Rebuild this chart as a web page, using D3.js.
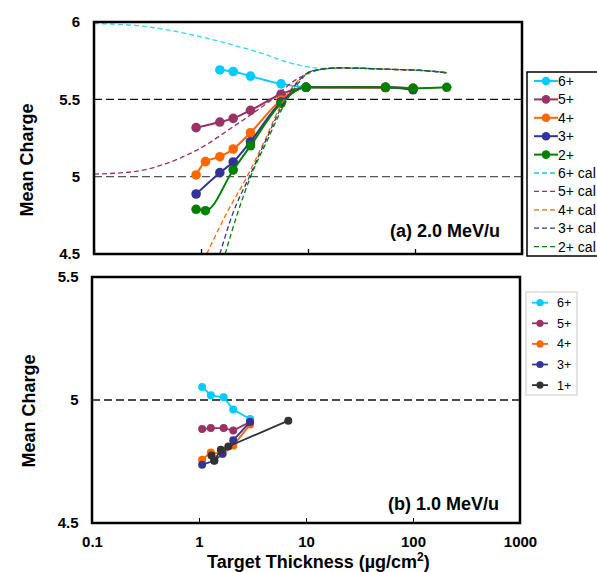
<!DOCTYPE html>
<html>
<head>
<meta charset="utf-8">
<script src="https://cdn.jsdelivr.net/npm/d3@7"></script>
<style>
  body { margin: 0; background: #fff; }
  svg { font-family: "Liberation Sans", Arial, sans-serif; }
</style>
</head>
<body>
<div id="chart"></div>
<script>
// ---- data ----

// panel (a) 2.0 MeV/u, measured
var a6x = [1.5, 2.0, 2.9, 5.6, 9.6];
var a6y = [5.69, 5.68, 5.65, 5.60, 5.578];
var a5x = [0.9, 1.5, 2.0, 2.9, 5.6, 9.6, 53, 96];
var a5y = [5.317, 5.353, 5.377, 5.429, 5.533, 5.578, 5.578, 5.571];
var a4x = [0.9, 1.1, 1.5, 2.0, 2.9, 5.6, 9.6, 53, 96];
var a4y = [5.011, 5.097, 5.129, 5.179, 5.284, 5.496, 5.578, 5.575, 5.572];
var a3x = [0.9, 1.5, 2.0, 2.9, 5.6, 9.6, 53, 96];
var a3y = [4.888, 5.026, 5.095, 5.226, 5.483, 5.578, 5.578, 5.562];
var a2x = [0.9, 1.1, 2.0, 2.9, 5.6, 9.6, 53, 96, 198];
var a2y = [4.789, 4.780, 5.043, 5.200, 5.474, 5.578, 5.578, 5.571, 5.578];

// panel (a) calculated curves
var c6x = [0.1, 0.27, 0.73, 1.74, 3.8, 6.8, 14, 20, 58, 138, 197];
var c6y = [5.99, 5.975, 5.925, 5.862, 5.795, 5.735, 5.70, 5.703, 5.694, 5.683, 5.672];
var c5x = [0.1, 0.233, 0.478, 0.979, 2.0, 4.12, 8.4, 15, 20, 58, 138, 197];
var c5y = [5.017, 5.032, 5.086, 5.183, 5.323, 5.474, 5.642, 5.70, 5.703, 5.694, 5.683, 5.672];
var c4x = [1.13, 1.74, 2.69, 3.96, 5.59, 7.56, 10.9, 20, 58, 138, 197];
var c4y = [4.5, 4.765, 5.0, 5.237, 5.463, 5.599, 5.683, 5.703, 5.694, 5.683, 5.672];
var c3x = [1.50, 1.99, 2.83, 4.05, 5.71, 7.72, 10.9, 20, 58, 138, 197];
var c3y = [4.5, 4.765, 5.0, 5.237, 5.457, 5.599, 5.683, 5.703, 5.694, 5.683, 5.672];
var c2x = [1.68, 2.20, 2.91, 4.14, 5.84, 7.89, 10.9, 20, 58, 138, 197];
var c2y = [4.5, 4.765, 5.0, 5.231, 5.450, 5.593, 5.683, 5.703, 5.694, 5.683, 5.672];

// panel (b) 1.0 MeV/u, measured
var b6x = [1.07, 1.29, 1.70, 2.09, 3.0];
var b6y = [5.053, 5.019, 5.011, 4.961, 4.923];
var b5x = [1.07, 1.29, 1.70, 2.09, 3.0];
var b5y = [4.882, 4.886, 4.886, 4.876, 4.911];
var b4x = [1.07, 1.29, 1.66, 2.09, 3.0];
var b4y = [4.757, 4.787, 4.781, 4.815, 4.900];
var b3x = [1.07, 1.39, 1.66, 2.09, 3.0];
var b3y = [4.737, 4.753, 4.781, 4.836, 4.911];
var b1x = [1.31, 1.39, 1.60, 1.88, 6.83];
var b1y = [4.774, 4.754, 4.798, 4.811, 4.916];

var xTicks = [0.1, 1, 10, 100, 1000];
var yTicksA = [4.5, 5, 5.5, 6];
var yTicksB = [4.5, 5, 5.5];
var labelsA = ["6+", "5+", "4+", "3+", "2+", "6+ cal", "5+ cal", "4+ cal", "3+ cal", "2+ cal"];
var labelsB = ["6+", "5+", "4+", "3+", "1+"];

var colors = {
  "6+": "#00ccff", "5+": "#993366", "4+": "#ff6600",
  "3+": "#333399", "2+": "#008000", "1+": "#333333"
};

function zip(xs, ys) {
  return xs.map(function(x, i) { return [x, ys[i]]; });
}

var measA = [
  {name: "6+", pts: zip(a6x, a6y)},
  {name: "5+", pts: zip(a5x, a5y)},
  {name: "4+", pts: zip(a4x, a4y)},
  {name: "3+", pts: zip(a3x, a3y)},
  {name: "2+", pts: zip(a2x, a2y)}
];
var calcA = [
  {name: "6+", pts: zip(c6x, c6y)},
  {name: "5+", pts: zip(c5x, c5y)},
  {name: "4+", pts: zip(c4x, c4y)},
  {name: "3+", pts: zip(c3x, c3y)},
  {name: "2+", pts: zip(c2x, c2y)}
];
var measB = [
  {name: "6+", pts: zip(b6x, b6y)},
  {name: "5+", pts: zip(b5x, b5y)},
  {name: "4+", pts: zip(b4x, b4y)},
  {name: "3+", pts: zip(b3x, b3y)},
  {name: "1+", pts: zip(b1x, b1y)}
];

// ---- scales ----
var xA = d3.scaleLog().domain([0.1, 1000]).range([94, 522]);
var yA = d3.scaleLinear().domain([4.5, 6]).range([254, 22]);
var xB = d3.scaleLog().domain([0.1, 1000]).range([92, 520]);
var yB = d3.scaleLinear().domain([4.5, 5.5]).range([523, 277]);

var svg = d3.select("#chart").append("svg")
    .attr("width", 597)
    .attr("height", 572);

var defs = svg.append("defs");
defs.append("clipPath").attr("id", "clipA").append("rect")
    .attr("x", 94).attr("y", 22).attr("width", 428).attr("height", 232);
defs.append("clipPath").attr("id", "clipB").append("rect")
    .attr("x", 92).attr("y", 277).attr("width", 428).attr("height", 246);

// ---- panel (a) ----
var gA = svg.append("g");

// reference lines
gA.selectAll(".ref")
    .data([5.5, 5])
  .enter().append("line")
    .attr("x1", xA(0.1)).attr("x2", xA(1000))
    .attr("y1", function(d) { return yA(d); })
    .attr("y2", function(d) { return yA(d); })
    .attr("stroke", function(d) { return d == 5 ? "#555" : "#111"; })
    .attr("stroke-width", 1.3)
    .attr("stroke-dasharray", "8,4");

var lineA = d3.line()
    .x(function(d) { return xA(d[0]); })
    .y(function(d) { return yA(d[1]); })
    .curve(d3.curveMonotoneX);

var plotA = gA.append("g").attr("clip-path", "url(#clipA)");

measA.forEach(function(s) {
  plotA.append("path")
      .attr("d", lineA(s.pts))
      .attr("fill", "none")
      .attr("stroke", colors[s.name])
      .attr("stroke-width", 2);
  plotA.selectAll(null)
      .data(s.pts)
    .enter().append("circle")
      .attr("cx", function(d) { return xA(d[0]); })
      .attr("cy", function(d) { return yA(d[1]); })
      .attr("r", 4.8)
      .attr("fill", colors[s.name]);
});

calcA.forEach(function(s) {
  plotA.append("path")
      .attr("d", lineA(s.pts))
      .attr("fill", "none")
      .attr("stroke", colors[s.name])
      .attr("stroke-opacity", s.name == "6+" ? 0.8 : 1)
      .attr("stroke-width", 1.3)
      .attr("stroke-dasharray", "5,3");
});

// axes
var axA = gA.append("g")
    .attr("transform", "translate(0,254)")
    .call(d3.axisBottom(xA).tickValues(xTicks).tickSizeInner(-5).tickSizeOuter(0).tickFormat(""));
axA.select(".domain").remove();
axA.selectAll("line").attr("stroke", "#000").attr("stroke-width", 1.3);

var ayA = gA.append("g")
    .attr("transform", "translate(94,0)")
    .call(d3.axisLeft(yA).tickValues(yTicksA).tickSize(0).tickPadding(14).tickFormat(function(d) { return d; }));
ayA.select(".domain").remove();
ayA.selectAll("text")
    .attr("font-size", 15).attr("font-weight", "bold").attr("font-family", "Liberation Sans, Arial, sans-serif");

gA.append("rect")
    .attr("x", 94).attr("y", 22).attr("width", 428).attr("height", 232)
    .attr("fill", "none").attr("stroke", "#000").attr("stroke-width", 2.5);

gA.append("text")
    .attr("x", 390).attr("y", 237)
    .attr("font-size", 18).attr("font-weight", "bold")
    .text("(a) 2.0 MeV/u");

gA.append("text")
    .attr("transform", "translate(33,160) rotate(-90)")
    .attr("text-anchor", "middle")
    .attr("font-size", 18).attr("font-weight", "bold")
    .text("Mean Charge");

// legend (a)
var legA = gA.append("g");
legA.append("rect")
    .attr("x", 527).attr("y", 72).attr("width", 90).attr("height", 184)
    .attr("fill", "#fff").attr("stroke", "#000").attr("stroke-width", 1.5);
labelsA.forEach(function(lab, i) {
  var y = 81 + i * 18.4;
  var key = lab.split(" ")[0];
  var isCal = lab.indexOf("cal") > 0;
  legA.append("line")
      .attr("x1", 534).attr("x2", 558).attr("y1", y).attr("y2", y)
      .attr("stroke", colors[key])
      .attr("stroke-width", isCal ? 1.3 : 2)
      .attr("stroke-dasharray", isCal ? "5,3" : null);
  if (!isCal) {
    legA.append("circle").attr("cx", 546).attr("cy", y).attr("r", 4.3).attr("fill", colors[key]);
  }
  legA.append("text")
      .attr("x", 558).attr("y", y).attr("dy", "0.36em")
      .attr("font-size", 14)
      .text(lab);
});

// ---- panel (b) ----
var gB = svg.append("g");

gB.append("line")
    .attr("x1", xB(0.1)).attr("x2", xB(1000))
    .attr("y1", yB(5)).attr("y2", yB(5))
    .attr("stroke", "#111").attr("stroke-width", 1.3)
    .attr("stroke-dasharray", "8,4");

var lineB = d3.line()
    .x(function(d) { return xB(d[0]); })
    .y(function(d) { return yB(d[1]); });

var plotB = gB.append("g").attr("clip-path", "url(#clipB)");
measB.forEach(function(s) {
  plotB.append("path")
      .attr("d", lineB(s.pts))
      .attr("fill", "none")
      .attr("stroke", colors[s.name])
      .attr("stroke-width", 1.8);
  plotB.selectAll(null)
      .data(s.pts)
    .enter().append("circle")
      .attr("cx", function(d) { return xB(d[0]); })
      .attr("cy", function(d) { return yB(d[1]); })
      .attr("r", 4)
      .attr("fill", colors[s.name]);
});

var axB = gB.append("g")
    .attr("transform", "translate(0,523)")
    .call(d3.axisBottom(xB).tickValues(xTicks).tickSizeInner(-5).tickSizeOuter(0).tickPadding(13)
      .tickFormat(function(d) { return d; }));
axB.select(".domain").remove();
axB.selectAll("line").attr("stroke", "#000").attr("stroke-width", 1);
axB.selectAll("text")
    .attr("font-size", 15).attr("font-weight", "bold").attr("font-family", "Liberation Sans, Arial, sans-serif");

var ayB = gB.append("g")
    .attr("transform", "translate(92,0)")
    .call(d3.axisLeft(yB).tickValues(yTicksB).tickSize(0).tickPadding(13.5).tickFormat(function(d) { return d; }));
ayB.select(".domain").remove();
ayB.selectAll("text")
    .attr("font-size", 15).attr("font-weight", "bold").attr("font-family", "Liberation Sans, Arial, sans-serif");

gB.append("rect")
    .attr("x", 92).attr("y", 277).attr("width", 428).attr("height", 246)
    .attr("fill", "none").attr("stroke", "#000").attr("stroke-width", 2.5);

gB.append("text")
    .attr("x", 388).attr("y", 510)
    .attr("font-size", 18).attr("font-weight", "bold")
    .text("(b) 1.0 MeV/u");

gB.append("text")
    .attr("transform", "translate(35,411) rotate(-90)")
    .attr("text-anchor", "middle")
    .attr("font-size", 18).attr("font-weight", "bold")
    .text("Mean Charge");

// x title
var xt = gB.append("text")
    .attr("x", 207).attr("y", 568)
    .attr("font-size", 18).attr("font-weight", "bold");
xt.append("tspan").text("Target Thickness  (µg/cm");
xt.append("tspan").attr("font-size", 12).attr("dy", -7).text("2");
xt.append("tspan").attr("dy", 7).text(")");

// legend (b)
var legB = gB.append("g");
legB.append("rect")
    .attr("x", 526).attr("y", 292).attr("width", 51).attr("height", 103)
    .attr("fill", "#fff").attr("stroke", "#c8c8c8").attr("stroke-width", 1);
labelsB.forEach(function(lab, i) {
  var y = 302.7 + i * 20.6;
  legB.append("line")
      .attr("x1", 532).attr("x2", 548).attr("y1", y).attr("y2", y)
      .attr("stroke", colors[lab]).attr("stroke-width", 1.8);
  legB.append("circle").attr("cx", 540).attr("cy", y).attr("r", 3.6).attr("fill", colors[lab]);
  legB.append("text")
      .attr("x", 557).attr("y", y).attr("dy", "0.36em")
      .attr("font-size", 12.5)
      .text(lab);
});
</script>
</body>
</html>
